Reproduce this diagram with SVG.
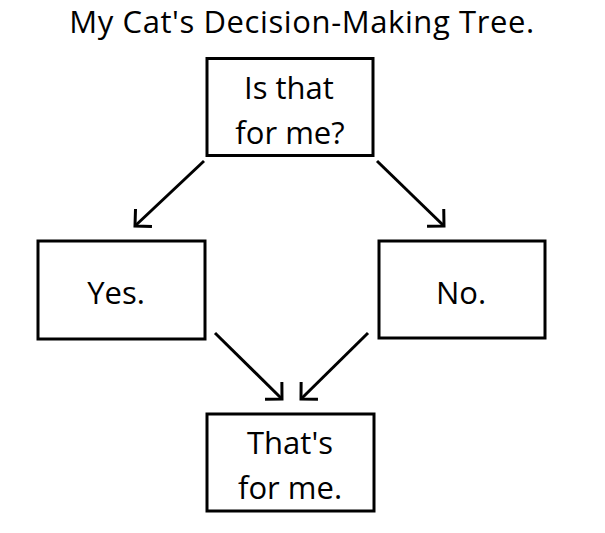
<svg xmlns="http://www.w3.org/2000/svg" width="605" height="533" viewBox="0 0 605 533">
<style>
.box{fill:#fff;stroke:#000;stroke-width:3}
.t{font-family:"Open Sans","Liberation Sans",sans-serif;font-size:31px;fill:#000;text-anchor:middle}
.c{stroke:#000;stroke-width:3;fill:none}
</style>
<defs>
<marker id="ah" viewBox="-16 -16 20 32" refX="0" refY="0" markerWidth="20" markerHeight="32" markerUnits="userSpaceOnUse" orient="auto">
<polyline points="-12,-12 0,0 -12,12" fill="none" stroke="#000" stroke-width="3"/>
</marker>
</defs>
<rect width="605" height="533" fill="#fff"/>
<text class="t" x="302" y="33" style="font-size:31px;letter-spacing:0.6px">My Cat's Decision-Making Tree.</text>
<g id="connectors">
<line class="c" x1="204" y1="161" x2="135" y2="226" marker-end="url(#ah)"/>
<line class="c" x1="377" y1="161" x2="444" y2="226" marker-end="url(#ah)"/>
<line class="c" x1="215" y1="333" x2="282" y2="399" marker-end="url(#ah)"/>
<line class="c" x1="368" y1="333" x2="301" y2="399" marker-end="url(#ah)"/>
</g>
<g id="q">
<rect class="box" x="207" y="58.5" width="166" height="97"/>
<text class="t" x="289" y="99">Is that</text>
<text class="t" x="290" y="144">for me?</text>
</g>
<g id="yes">
<rect class="box" x="38" y="241" width="167" height="98"/>
<text class="t" x="116" y="304">Yes.</text>
</g>
<g id="no">
<rect class="box" x="379" y="241" width="166" height="97"/>
<text class="t" x="461" y="304">No.</text>
</g>
<g id="res">
<rect class="box" x="207" y="414" width="167" height="97"/>
<text class="t" x="290" y="454">That's</text>
<text class="t" x="290" y="499">for me.</text>
</g>
</svg>
